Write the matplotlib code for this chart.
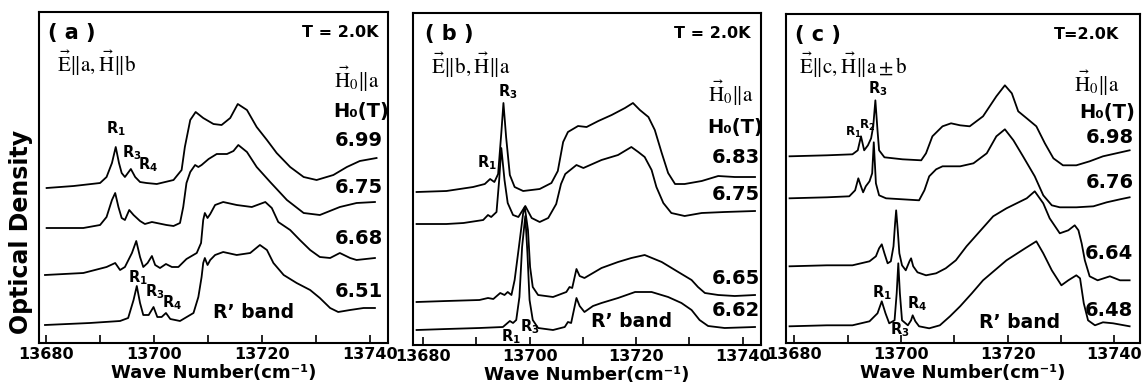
import matplotlib.pyplot as plt
from matplotlib.ticker import MultipleLocator

# spectra: (wave number [cm-1], optical density [a.u., curves already offset])
# panel (a)  E||a, H||b
a_699 = [(13680.1, 1.55), (13685.1, 1.57), (13690.0, 1.60), (13691.2, 1.66), (13692.2, 1.80),
         (13692.9, 1.96), (13693.5, 1.80), (13694.0, 1.70), (13694.6, 1.66), (13695.7, 1.74),
         (13696.5, 1.66), (13697.4, 1.61), (13698.6, 1.60), (13700.5, 1.59), (13703.6, 1.63),
         (13705.1, 1.73), (13705.7, 1.96), (13706.7, 2.23), (13707.7, 2.31), (13709.1, 2.25),
         (13711.0, 2.19), (13712.5, 2.18), (13714.1, 2.25), (13715.5, 2.39), (13717.2, 2.33),
         (13719.0, 2.16), (13720.9, 2.03), (13722.7, 1.90), (13725.2, 1.76), (13727.7, 1.66),
         (13730.1, 1.63), (13733.2, 1.68), (13735.7, 1.76), (13738.1, 1.82), (13741.2, 1.85)]
a_675 = [(13680.1, 1.15), (13686.9, 1.15), (13690.0, 1.18), (13691.2, 1.26), (13692.2, 1.43),
         (13692.8, 1.50), (13693.4, 1.36), (13694.0, 1.25), (13694.6, 1.23), (13695.4, 1.33),
         (13696.2, 1.28), (13697.4, 1.22), (13698.3, 1.19), (13699.6, 1.21), (13700.5, 1.20),
         (13702.3, 1.18), (13703.6, 1.17), (13704.8, 1.20), (13705.4, 1.36), (13706.0, 1.60),
         (13706.7, 1.71), (13707.6, 1.78), (13708.2, 1.76), (13708.8, 1.78), (13710.1, 1.84),
         (13711.6, 1.89), (13713.5, 1.89), (13714.7, 1.92), (13715.6, 1.98), (13717.2, 1.91),
         (13719.0, 1.76), (13721.5, 1.61), (13724.6, 1.43), (13727.7, 1.30), (13730.7, 1.28),
         (13734.4, 1.36), (13737.5, 1.40), (13740.9, 1.41)]
a_668 = [(13679.8, 0.68), (13686.9, 0.70), (13691.2, 0.76), (13692.8, 0.80), (13693.7, 0.73),
         (13694.6, 0.76), (13695.9, 0.90), (13696.7, 1.02), (13697.4, 0.86), (13698.0, 0.76),
         (13698.8, 0.80), (13699.6, 0.87), (13700.2, 0.78), (13701.1, 0.75), (13702.2, 0.79),
         (13703.3, 0.76), (13704.5, 0.76), (13706.0, 0.84), (13707.9, 0.90), (13708.7, 1.00),
         (13709.1, 1.23), (13709.4, 1.30), (13709.9, 1.25), (13710.4, 1.29), (13711.3, 1.38),
         (13712.8, 1.41), (13715.3, 1.38), (13718.1, 1.36), (13720.6, 1.41), (13721.8, 1.35),
         (13723.0, 1.21), (13725.2, 1.13), (13727.0, 1.03), (13728.9, 0.93), (13730.7, 0.86),
         (13732.6, 0.85), (13734.4, 0.90), (13736.3, 0.85), (13737.5, 0.83), (13740.9, 0.85)]
a_651 = [(13679.8, 0.18), (13688.1, 0.20), (13693.7, 0.22), (13695.2, 0.25), (13696.2, 0.43),
         (13696.8, 0.57), (13697.4, 0.40), (13698.0, 0.28), (13699.0, 0.28), (13699.9, 0.36),
         (13700.6, 0.26), (13701.4, 0.26), (13702.2, 0.30), (13703.0, 0.24), (13704.8, 0.22),
         (13707.3, 0.30), (13708.2, 0.46), (13708.8, 0.66), (13709.1, 0.80), (13709.4, 0.85),
         (13709.9, 0.78), (13710.4, 0.83), (13711.3, 0.88), (13712.8, 0.91), (13715.3, 0.88),
         (13717.8, 0.90), (13719.6, 0.98), (13720.9, 0.93), (13722.1, 0.80), (13724.0, 0.68),
         (13726.4, 0.60), (13728.9, 0.53), (13730.7, 0.45), (13732.6, 0.35), (13734.1, 0.31),
         (13736.3, 0.33), (13738.8, 0.35), (13740.9, 0.35)]

# panel (b)  E||b, H||a
b_683 = [(13678.8, 1.53), (13684.4, 1.54), (13689.4, 1.58), (13691.6, 1.61), (13692.6, 1.66),
         (13693.4, 1.63), (13694.1, 1.71), (13694.7, 2.12), (13695.1, 2.42), (13695.6, 2.08),
         (13696.3, 1.70), (13697.2, 1.58), (13698.8, 1.54), (13701.9, 1.56), (13704.1, 1.62),
         (13705.3, 1.74), (13706.3, 2.03), (13707.2, 2.13), (13709.1, 2.19), (13710.7, 2.18),
         (13712.9, 2.24), (13715.4, 2.30), (13717.9, 2.37), (13719.4, 2.42), (13720.7, 2.35),
         (13722.3, 2.28), (13723.5, 2.15), (13724.8, 1.92), (13726.0, 1.72), (13727.3, 1.61),
         (13729.1, 1.61), (13732.3, 1.64), (13735.4, 1.69), (13738.5, 1.68), (13742.3, 1.68)]
b_675 = [(13678.8, 1.21), (13684.4, 1.21), (13687.6, 1.22), (13691.3, 1.25), (13692.2, 1.30),
         (13692.8, 1.28), (13693.8, 1.33), (13694.3, 1.65), (13694.7, 1.97), (13695.3, 1.65),
         (13695.9, 1.42), (13696.9, 1.30), (13697.9, 1.28), (13699.2, 1.39), (13700.4, 1.27),
         (13701.9, 1.23), (13703.5, 1.27), (13705.0, 1.41), (13705.9, 1.61), (13706.7, 1.71),
         (13708.8, 1.80), (13710.1, 1.77), (13713.5, 1.85), (13716.6, 1.90), (13719.1, 1.98),
         (13720.4, 1.93), (13721.6, 1.88), (13722.9, 1.75), (13723.8, 1.58), (13725.1, 1.42),
         (13726.6, 1.32), (13729.1, 1.29), (13732.3, 1.32), (13736.6, 1.33), (13742.3, 1.34)]
b_665 = [(13678.8, 0.43), (13684.4, 0.44), (13690.6, 0.45), (13692.2, 0.47), (13693.2, 0.46),
         (13694.5, 0.52), (13695.3, 0.50), (13695.9, 0.53), (13696.6, 0.50), (13697.2, 0.65),
         (13698.0, 0.98), (13698.8, 1.32), (13699.1, 1.38), (13699.7, 1.15), (13700.1, 0.78),
         (13700.6, 0.58), (13701.6, 0.50), (13704.4, 0.48), (13706.9, 0.53), (13707.5, 0.58),
         (13708.0, 0.57), (13708.8, 0.76), (13709.4, 0.69), (13710.3, 0.67), (13711.9, 0.72),
         (13713.5, 0.77), (13716.6, 0.83), (13719.1, 0.87), (13721.6, 0.90), (13724.8, 0.83),
         (13727.9, 0.73), (13730.4, 0.65), (13731.6, 0.58), (13732.9, 0.52), (13735.4, 0.50),
         (13738.5, 0.49), (13742.3, 0.50)]
b_662 = [(13678.8, 0.15), (13684.4, 0.16), (13690.6, 0.17), (13695.0, 0.18), (13696.3, 0.24),
         (13696.9, 0.22), (13697.5, 0.25), (13698.1, 0.48), (13698.6, 0.98), (13699.2, 1.29),
         (13699.6, 0.92), (13700.0, 0.45), (13700.6, 0.25), (13701.6, 0.17), (13704.4, 0.15),
         (13706.6, 0.18), (13707.2, 0.23), (13707.8, 0.22), (13708.8, 0.47), (13709.4, 0.39),
         (13710.3, 0.33), (13711.9, 0.39), (13713.5, 0.42), (13716.6, 0.47), (13719.8, 0.53),
         (13722.9, 0.53), (13726.0, 0.48), (13728.5, 0.42), (13730.4, 0.35), (13731.9, 0.25),
         (13733.5, 0.19), (13736.6, 0.17), (13742.3, 0.18)]

# panel (c)  E||c, H||a+-b
c_698 = [(13679.1, 1.87), (13686.1, 1.88), (13690.9, 1.89), (13691.9, 1.93), (13692.5, 2.07),
         (13693.1, 1.93), (13693.8, 1.98), (13694.4, 2.05), (13694.8, 2.17), (13695.2, 2.43),
         (13695.6, 2.13), (13695.9, 1.93), (13696.9, 1.86), (13700.3, 1.84), (13703.8, 1.83),
         (13704.7, 1.90), (13705.9, 2.07), (13707.8, 2.17), (13709.4, 2.20), (13711.1, 2.18),
         (13712.9, 2.17), (13715.4, 2.27), (13717.9, 2.47), (13719.5, 2.58), (13720.8, 2.50),
         (13722.0, 2.32), (13723.6, 2.25), (13725.4, 2.17), (13727.0, 2.00), (13728.6, 1.85),
         (13730.4, 1.78), (13732.9, 1.78), (13735.4, 1.82), (13737.9, 1.87), (13740.4, 1.90),
         (13742.9, 1.93)]
c_676 = [(13679.1, 1.45), (13686.1, 1.46), (13690.3, 1.47), (13691.4, 1.53), (13692.0, 1.65),
         (13692.5, 1.57), (13692.9, 1.51), (13693.4, 1.57), (13694.1, 1.62), (13694.6, 1.70),
         (13694.9, 2.01), (13695.3, 1.60), (13695.9, 1.48), (13697.2, 1.45), (13703.4, 1.43),
         (13704.4, 1.53), (13705.3, 1.67), (13706.6, 1.74), (13707.8, 1.77), (13709.1, 1.77),
         (13711.1, 1.77), (13713.6, 1.80), (13716.1, 1.90), (13717.9, 2.07), (13719.5, 2.14),
         (13721.1, 2.03), (13722.9, 1.87), (13725.1, 1.67), (13726.7, 1.48), (13728.3, 1.38),
         (13729.8, 1.36), (13732.9, 1.36), (13736.1, 1.37), (13738.6, 1.41), (13741.1, 1.44),
         (13742.9, 1.46)]
c_664 = [(13679.1, 0.77), (13686.1, 0.78), (13690.9, 0.78), (13694.1, 0.82), (13695.3, 0.87),
         (13695.9, 0.95), (13696.4, 0.99), (13696.9, 0.90), (13697.5, 0.80), (13698.1, 0.82),
         (13698.6, 0.97), (13698.9, 1.20), (13699.1, 1.33), (13699.4, 1.13), (13699.7, 0.90),
         (13700.2, 0.78), (13700.9, 0.73), (13701.6, 0.82), (13701.9, 0.85), (13702.3, 0.77),
         (13703.1, 0.71), (13704.7, 0.68), (13706.6, 0.70), (13708.4, 0.75), (13710.3, 0.83),
         (13712.3, 0.97), (13714.8, 1.12), (13717.3, 1.27), (13719.8, 1.35), (13721.7, 1.40),
         (13723.6, 1.45), (13725.1, 1.52), (13726.7, 1.40), (13727.9, 1.25), (13729.8, 1.10),
         (13731.4, 1.13), (13732.6, 1.18), (13733.3, 1.13), (13733.9, 1.00), (13734.5, 0.83),
         (13735.4, 0.67), (13736.9, 0.63), (13739.2, 0.67), (13741.1, 0.63), (13742.9, 0.63)]
c_648 = [(13679.1, 0.17), (13686.1, 0.18), (13690.9, 0.18), (13694.1, 0.22), (13695.6, 0.30),
         (13696.4, 0.42), (13697.1, 0.30), (13697.8, 0.20), (13698.8, 0.23), (13699.2, 0.50),
         (13699.5, 0.80), (13699.8, 0.50), (13700.2, 0.23), (13701.3, 0.18), (13701.9, 0.23),
         (13702.2, 0.28), (13702.7, 0.22), (13703.4, 0.17), (13705.3, 0.15), (13707.3, 0.18),
         (13709.2, 0.27), (13711.1, 0.37), (13713.3, 0.50), (13715.4, 0.63), (13719.8, 0.83),
         (13723.3, 0.95), (13725.4, 1.02), (13726.7, 0.90), (13728.3, 0.73), (13730.1, 0.58),
         (13731.4, 0.63), (13732.9, 0.68), (13733.6, 0.65), (13734.3, 0.40), (13735.1, 0.23),
         (13736.4, 0.18), (13737.9, 0.21), (13739.8, 0.20), (13742.9, 0.17)]

# field labels H0 (T) and where they sit (OD)
fields_a = ['6.99', '6.75', '6.68', '6.51']
fields_a_od = [2.03, 1.56, 1.05, 0.51]
fields_b = ['6.83', '6.75', '6.65', '6.62']
fields_b_od = [1.88, 1.51, 0.67, 0.34]
fields_c = ['6.98', '6.76', '6.64', '6.48']
fields_c_od = [2.06, 1.61, 0.90, 0.33]

tick_pos = [13680, 13700, 13720, 13740]
tick_labels = ['13680', '13700', '13720', '13740']

plt.rcParams['font.family'] = 'DejaVu Sans'
plt.rcParams['mathtext.fontset'] = 'stix'

fig = plt.figure(figsize=(11.42, 3.85), dpi=100)
ax_a = fig.add_axes([0.0342, 0.1091, 0.3056, 0.8597])
ax_b = fig.add_axes([0.3616, 0.1039, 0.3047, 0.8623])
ax_c = fig.add_axes([0.6883, 0.1083, 0.3100, 0.8553])


def setup(ax, xlim, ymax):
    ax.set_xlim(*xlim)
    ax.set_ylim(0, ymax)
    ax.set_yticks([])
    ax.set_xticks(tick_pos)
    ax.set_xticklabels(tick_labels, fontsize=11.5, fontweight='bold')
    ax.xaxis.set_minor_locator(MultipleLocator(10))
    ax.tick_params(axis='x', which='both', direction='in', length=6, width=1.2, pad=3)
    for sp in ax.spines.values():
        sp.set_linewidth(1.5)
    ax.set_xlabel('Wave Number(cm⁻¹)', fontsize=13, fontweight='bold', labelpad=1)


def draw(ax, curves, fields, fields_od, x_field):
    for c in curves:
        wn, od = zip(*c)
        ax.plot(wn, od, color='black', lw=1.3)
    for f, y in zip(fields, fields_od):
        ax.text(x_field, y, f, fontsize=14, fontweight='bold', ha='center', va='center')


def header(ax, tag, temp, pol, fx):
    ax.text(fx[0], 0.937, tag, transform=ax.transAxes, fontsize=15, fontweight='bold',
            ha='center', va='center')
    ax.text(fx[1], 0.937, temp, transform=ax.transAxes, fontsize=11.5, fontweight='bold',
            ha='center', va='center')
    ax.text(fx[2], 0.843, pol, transform=ax.transAxes, fontsize=15, ha='center', va='center')


setup(ax_a, (13678.7, 13743.33), 3.31)
setup(ax_b, (13678.12, 13743.41), 3.32)
setup(ax_c, (13678.44, 13744.86), 3.293)

draw(ax_a, [a_699, a_675, a_668, a_651], fields_a, fields_a_od, 13737.9)
draw(ax_b, [b_683, b_675, b_665, b_662], fields_b, fields_b_od, 13738.7)
draw(ax_c, [c_698, c_676, c_664, c_648], fields_c, fields_c_od, 13739.1)

header(ax_a, '( a )', 'T = 2.0K', r'$\vec{\mathrm{E}}\Vert\mathrm{a},\vec{\mathrm{H}}\Vert\mathrm{b}$',
       (0.095, 0.862, 0.166))
header(ax_b, '( b )', 'T = 2.0K', r'$\vec{\mathrm{E}}\Vert\mathrm{b},\vec{\mathrm{H}}\Vert\mathrm{a}$',
       (0.103, 0.859, 0.167))
header(ax_c, '( c )', 'T=2.0K', r'$\vec{\mathrm{E}}\Vert\mathrm{c},\vec{\mathrm{H}}\Vert\mathrm{a}\pm\mathrm{b}$',
       (0.090, 0.850, 0.189))

# H0 direction and column heading
for ax, fx, fy1, fx2, fy2 in [(ax_a, 0.911, 0.795, 0.923, 0.698),
                              (ax_b, 0.914, 0.759, 0.926, 0.654),
                              (ax_c, 0.879, 0.790, 0.907, 0.702)]:
    ax.text(fx, fy1, r'$\vec{\mathrm{H}}_0\Vert\mathrm{a}$', transform=ax.transAxes,
            fontsize=15, ha='center', va='center')
    ax.text(fx2, fy2, 'H₀(T)', transform=ax.transAxes,
            fontsize=14, fontweight='bold', ha='center', va='center')

# peak labels (wave number, OD)
kw = dict(fontsize=10.5, fontweight='bold', ha='center', va='center')
ax_a.text(13693.0, 2.14, r'$\mathregular{R_1}$', **kw)
ax_a.text(13695.9, 1.90, r'$\mathregular{R_3}$', **kw)
ax_a.text(13698.9, 1.78, r'$\mathregular{R_4}$', **kw)
ax_a.text(13697.0, 0.65, r'$\mathregular{R_1}$', **kw)
ax_a.text(13700.2, 0.51, r'$\mathregular{R_3}$', **kw)
ax_a.text(13703.3, 0.40, r'$\mathregular{R_4}$', **kw)
ax_a.text(13718.5, 0.30, 'R’ band', fontsize=13.5, fontweight='bold', ha='center', va='center')

ax_b.text(13695.9, 2.53, r'$\mathregular{R_3}$', **kw)
ax_b.text(13692.0, 1.82, r'$\mathregular{R_1}$', **kw)
ax_b.text(13696.5, 0.08, r'$\mathregular{R_1}$', **kw)
ax_b.text(13700.1, 0.18, r'$\mathregular{R_3}$', **kw)
ax_b.text(13719.2, 0.23, 'R’ band', fontsize=13.5, fontweight='bold', ha='center', va='center')

ax_c.text(13695.7, 2.55, r'$\mathregular{R_3}$', **kw)
ax_c.text(13691.0, 2.11, r'$\mathregular{R_1}$', fontsize=8.5, fontweight='bold', ha='center', va='center')
ax_c.text(13693.6, 2.18, r'$\mathregular{R_2}$', fontsize=8.5, fontweight='bold', ha='center', va='center')
ax_c.text(13696.4, 0.51, r'$\mathregular{R_1}$', **kw)
ax_c.text(13703.0, 0.40, r'$\mathregular{R_4}$', **kw)
ax_c.text(13699.8, 0.14, r'$\mathregular{R_3}$', **kw)
ax_c.text(13722.3, 0.21, 'R’ band', fontsize=13.5, fontweight='bold', ha='center', va='center')

fig.text(0.018, 0.397, 'Optical Density', rotation=90, fontsize=17, fontweight='bold',
         ha='center', va='center')

fig.savefig('out.png', dpi=100)
